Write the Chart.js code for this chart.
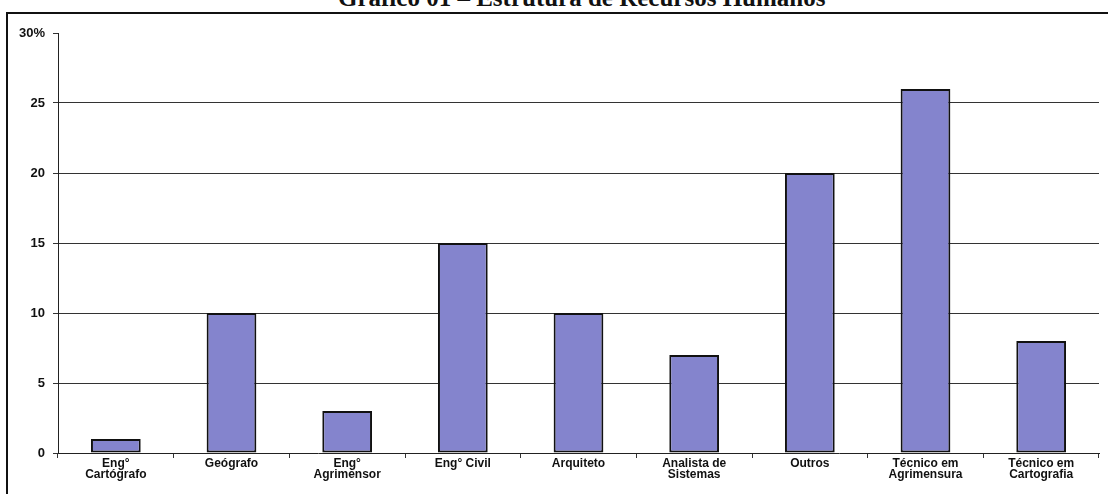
<!DOCTYPE html>
<html lang="pt">
<head>
<meta charset="utf-8">
<script src="https://cdn.jsdelivr.net/npm/chart.js@4"></script>
<style>
  html, body { margin: 0; padding: 0; background: #fff; overflow: hidden; }
  #wrap { position: relative; width: 1108px; height: 494px; }
  #grafico { position: absolute; left: 0; top: 0; }
  #moldura {
    position: absolute; left: 6px; top: 12px; width: 1102px; height: 482px;
    border-left: 2px solid #111; border-top: 2px solid #111; box-sizing: border-box;
    pointer-events: none;
  }
  #titulo {
    position: absolute; left: 338px; top: -16px; line-height: 25px;
    font: bold 25px "Liberation Serif", "DejaVu Serif", serif; color: #111;
    white-space: nowrap;
  }
</style>
</head>
<body>
<div id="wrap">
  <div id="titulo">Gráfico 01 – Estrutura de Recursos Humanos</div>
  <canvas id="grafico" width="1108" height="494"></canvas>
  <div id="moldura"></div>
</div>
<script>
// categorias do eixo x (quebras de linha como no original)
const categorias = [
    ['Eng°', 'Cartógrafo'],
    'Geógrafo',
    ['Eng°', 'Agrimensor'],
    'Eng° Civil',
    'Arquiteto',
    ['Analista de', 'Sistemas'],
    'Outros',
    ['Técnico em', 'Agrimensura'],
    ['Técnico em', 'Cartografia'],
];

// percentual de cada formação
const percentuais = [1, 10, 3, 15, 10, 7, 20, 26, 8];

// escala do eixo y
const yMin = 0;
const yMax = 30;
const yPasso = 5;

const fonte = "'Liberation Sans', Arial, sans-serif";

const ctx = document.getElementById('grafico');

new Chart(ctx, {
    type: 'bar',
    data: {
        labels: categorias,
        datasets: [{
            data: percentuais,
            backgroundColor: '#8484cd',
            borderColor: '#111',
            borderWidth: 2,
            borderSkipped: false,
            barPercentage: 0.43,
            categoryPercentage: 1,
        }],
    },
    options: {
        responsive: false,
        devicePixelRatio: 1,
        animation: false,
        layout: {
            padding: { top: 33, right: 9, left: 0, bottom: 0 },
        },
        plugins: {
            legend: { display: false },
            tooltip: { enabled: false },
        },
        scales: {
            x: {
                grid: {
                    offset: true,
                    drawOnChartArea: false,
                    tickLength: 5,
                    color: '#333',
                },
                border: { color: '#222', width: 1 },
                ticks: {
                    color: '#111',
                    font: { family: fonte, size: 12, weight: 'bold', lineHeight: 0.95 },
                    padding: 0,
                    maxRotation: 0,
                    autoSkip: false,
                },
                afterFit: (scale) => { scale.height = 41; },
            },
            y: {
                min: yMin,
                max: yMax,
                grid: {
                    // sem linha de grade no 0 e no 30, só a marca do eixo
                    color: (c) => (c.tick && (c.tick.value === yMax || c.tick.value === yMin)) ? 'rgba(0,0,0,0)' : '#333',
                    tickColor: '#333',
                    tickLength: 5,
                },
                border: { color: '#222', width: 1 },
                ticks: {
                    stepSize: yPasso,
                    color: '#111',
                    font: { family: fonte, size: 13, weight: 'bold' },
                    padding: 8,
                    callback: (v) => v === yMax ? v + '%' : v,
                },
                afterFit: (scale) => { scale.width = 58; },
            },
        },
    },
});
</script>
</body>
</html>
